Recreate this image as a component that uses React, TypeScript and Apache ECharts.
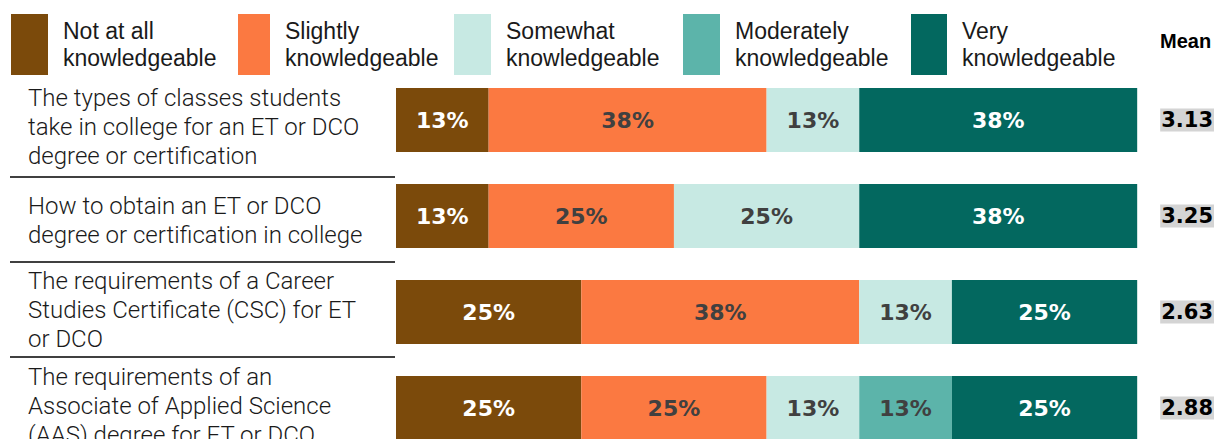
import React, { useEffect, useRef } from "react";
import * as echarts from "echarts";

const categories = [
  "The types of classes students\ntake in college for an ET or DCO\ndegree or certification",
  "How to obtain an ET or DCO\ndegree or certification in college",
  "The requirements of a Career\nStudies Certificate (CSC) for ET\nor DCO",
  "The requirements of an\nAssociate of Applied Science\n(AAS) degree for ET or DCO",
];
const seriesNames = [
  "Not at all knowledgeable",
  "Slightly knowledgeable",
  "Somewhat knowledgeable",
  "Moderately knowledgeable",
  "Very knowledgeable",
];
const notAtAll = [12.5, 12.5, 25, 25];
const slightly = [37.5, 25, 37.5, 25];
const somewhat = [12.5, 25, 12.5, 12.5];
const moderately = [0, 0, 0, 12.5];
const very = [37.5, 37.5, 25, 25];
const means = ["3.13", "3.25", "2.63", "2.88"];

const colors = ["#7b4a0b", "#fb7941", "#c7e9e3", "#5cb4aa", "#03685f"];
const labelColors = ["#ffffff", "#404040", "#404040", "#404040", "#ffffff"];
const legendLefts = [11, 238, 454, 683, 911];
const legendBoxWidths = [37, 32, 37, 37, 36];

export default function App() {
  const ref = useRef<HTMLDivElement>(null);
  useEffect(() => {
    if (!ref.current) return;
    const chart = echarts.init(ref.current, null, { renderer: "svg" });
    const values = [notAtAll, slightly, somewhat, moderately, very];
    const option: any = {
      animation: false,
      backgroundColor: "#ffffff",
      legend: seriesNames.map((n, i) => ({
        left: legendLefts[i],
        top: 14,
        padding: 0,
        orient: "horizontal",
        data: [n],
        icon: "rect",
        itemWidth: legendBoxWidths[i],
        itemHeight: 61,
        selectedMode: false,
        formatter: (name: string) => name.replace(" knowledgeable", "\nknowledgeable"),
        textStyle: {
          fontFamily: "'Liberation Sans', Arial, sans-serif",
          fontSize: 23,
          lineHeight: 27,
          color: "#1a1a1a",
          padding: [0, 0, 6, 10],
        },
      })),
      graphic: [
        {
          type: "text",
          left: 1160,
          top: 31,
          style: {
            text: "Mean",
            font: "bold 20px 'Liberation Sans', Arial, sans-serif",
            fill: "#000",
          },
        },
        ...[177, 262, 357].map((y) => ({
          type: "line",
          shape: { x1: 10, y1: y, x2: 395, y2: y },
          style: { stroke: "#000", lineWidth: 1.5 },
        })),
      ],
      grid: { left: 396, top: 72, width: 742, height: 384 },
      xAxis: { type: "value", min: 0, max: 100, show: false },
      yAxis: [
        {
          type: "category",
          inverse: true,
          data: categories,
          axisLine: { show: false },
          axisTick: { show: false },
          axisLabel: {
            align: "left",
            margin: 368,
            fontFamily: "Roboto, sans-serif",
            fontWeight: 300,
            fontSize: 24,
            lineHeight: 29,
            color: "#1a1a1a",
            formatter: (value: string, index: number) => {
              if (index === 0) return "{s14| }\n" + value;
              if (index === 1) return "{s8| }\n" + value;
              return value + "\n{s4| }";
            },
            rich: {
              s14: { height: 14, lineHeight: 14, fontSize: 1 },
              s8: { height: 8, lineHeight: 8, fontSize: 1 },
              s4: { height: 4, lineHeight: 4, fontSize: 1 },
            },
          },
        },
        {
          type: "category",
          inverse: true,
          position: "right",
          data: means,
          axisLine: { show: false },
          axisTick: { show: false },
          axisLabel: {
            align: "left",
            margin: 23,
            fontFamily: "'DejaVu Sans', sans-serif",
            fontWeight: "bold",
            fontSize: 21,
            color: "#000",
            backgroundColor: "#d4d4d4",
            padding: [2, 1, 0, 1],
          },
        },
      ],
      series: seriesNames.map((n, i) => ({
        name: n,
        type: "bar",
        stack: "total",
        yAxisIndex: 0,
        barWidth: 64,
        itemStyle: { color: colors[i] },
        label: {
          show: true,
          position: "inside",
          color: labelColors[i],
          fontFamily: "'DejaVu Sans', sans-serif",
          fontWeight: "bold",
          fontSize: 22,
          formatter: (p: any) => (p.value > 0 ? `${Math.round(p.value)}%` : ""),
        },
        data: values[i],
      })),
    };
    chart.setOption(option);
    return () => chart.dispose();
  }, []);
  return (
    <div
      style={{ position: "absolute", left: 0, top: 0, width: 1217, height: 439, overflow: "hidden" }}
    >
      <div ref={ref} style={{ width: 1217, height: 480 }} />
    </div>
  );
}
